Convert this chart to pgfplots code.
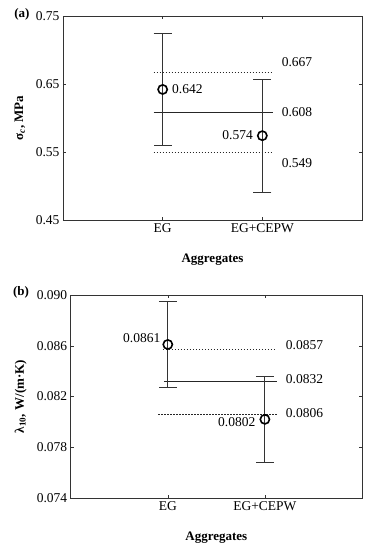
\documentclass[border=0pt]{standalone}
\usepackage{pgfplots}
\pgfplotsset{compat=1.18}
\usepackage{fontspec}
\setmainfont{Liberation Serif}
\begin{document}
\begin{tikzpicture}[font=\fontsize{13.5}{15}\selectfont]
\useasboundingbox (0pt,0pt) rectangle (370pt,550pt);
\pgfplotsset{
  myaxis/.style={
    scale only axis,
    xmin=0, xmax=3,
    xtick={1,2}, xticklabels={EG,EG+CEPW},
    tick align=inside,
    major tick length=3pt,
    scaled y ticks=false,
    /pgf/number format/assume math mode=true,
    tick label style={font=\fontsize{13.5}{15}\selectfont},
    label style={font=\bfseries\fontsize{13}{15}\selectfont},
    xlabel={Aggregates},
    xlabel style={at={(axis description cs:0.5,0)}, anchor=center, yshift=-40pt},
    axis line style={black!80},
    every tick/.style={black!80},
  },
  errplot/.style={
    black, only marks, mark=o, mark size=4.6pt,
    mark options={fill=white, line width=1.6pt},
    error bars/.cd, y dir=both, y explicit,
    error bar style={line width=0.8pt, black!80},
    error mark options={rotate=90, mark size=9pt, line width=0.8pt, black!80},
  },
  solidline/.style={black!85, line width=0.8pt},
  dotline/.style={black!85, line width=0.8pt, dash pattern=on 1.5pt off 1.5pt},
}
% ---------------- (a)
\begin{axis}[myaxis,
  at={(63pt,330pt)}, anchor=south west,
  width=299pt, height=204pt,
  ymin=0.45, ymax=0.75,
  ytick={0.45,0.55,0.65,0.75},
  yticklabel style={/pgf/number format/fixed, /pgf/number format/fixed zerofill, /pgf/number format/precision=2},
  ylabel={σ\textsubscript{\textit{c}}, MPa},
  ylabel style={at={(axis description cs:-0.144,0.5)}, anchor=center},
]
\addplot[dotline] coordinates {(0.91,0.667) (2.11,0.667)};
\addplot[dotline] coordinates {(0.91,0.549) (2.11,0.549)};
\addplot[solidline] coordinates {(0.91,0.608) (2.11,0.608)};
\addplot[errplot] coordinates {(1,0.642) +- (0,0.083) (2,0.574) +- (0,0.083)};
\node[anchor=west] at (axis cs:1,0.642) [xshift=6pt] {0.642};
\node[anchor=east] at (axis cs:2,0.574) [xshift=-6pt, yshift=1pt] {0.574};
\node[anchor=west] at (axis cs:2.16,0.667) [yshift=10pt] {0.667};
\node[anchor=west] at (axis cs:2.16,0.608) {0.608};
\node[anchor=west] at (axis cs:2.16,0.549) [yshift=-10pt] {0.549};
\end{axis}
% ---------------- (b)
\begin{axis}[myaxis,
  at={(70.7pt,52pt)}, anchor=south west,
  width=291.3pt, height=203pt,
  ymin=0.074, ymax=0.090,
  ytick={0.074,0.078,0.082,0.086,0.090},
  yticklabel style={/pgf/number format/fixed, /pgf/number format/fixed zerofill, /pgf/number format/precision=3},
  ylabel={λ\textsubscript{10}, W/(m·K)},
  ylabel style={at={(axis description cs:-0.172,0.5)}, anchor=center},
]
\addplot[dotline] coordinates {(0.95,0.0857) (2.12,0.0857)};
\addplot[dotline] coordinates {(0.90,0.0806) (2.12,0.0806)};
\addplot[solidline] coordinates {(0.96,0.0832) (2.12,0.0832)};
\addplot[errplot] coordinates {(1,0.0861) +- (0,0.0034) (2,0.0802) +- (0,0.0034)};
\node[anchor=east] at (axis cs:1,0.0861) [xshift=-4pt, yshift=6pt] {0.0861};
\node[anchor=east] at (axis cs:2,0.0802) [xshift=-6pt, yshift=-3pt] {0.0802};
\node[anchor=west] at (axis cs:2.18,0.0857) [yshift=4pt] {0.0857};
\node[anchor=west] at (axis cs:2.18,0.0832) [yshift=2pt] {0.0832};
\node[anchor=west] at (axis cs:2.18,0.0806) [yshift=1pt] {0.0806};
\end{axis}
\node[font=\bfseries\fontsize{13}{15}\selectfont] at (22pt,536pt) {(a)};
\node[font=\bfseries\fontsize{13}{15}\selectfont] at (21pt,258pt) {(b)};
\end{tikzpicture}
\end{document}
